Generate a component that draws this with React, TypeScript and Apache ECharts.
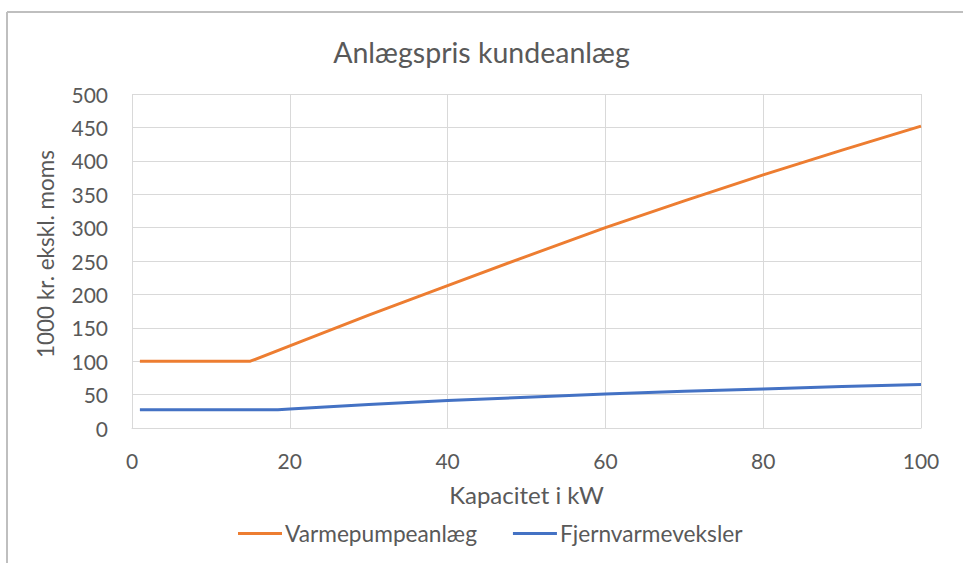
import React, { useEffect, useRef } from "react";
import * as echarts from "echarts";

const titleText = "Anlægspris kundeanlæg";
const xAxisName = "Kapacitet i kW";
const yAxisName = "1000 kr. ekskl. moms";
const seriesNames = ["Varmepumpeanlæg", "Fjernvarmeveksler"];

const heatPumpKW = [1, 15, 20, 30, 40, 50, 60, 70, 80, 90, 100];
const heatPumpPrice = [100, 100, 123, 169, 213, 257, 300, 340, 379, 416, 452];

const districtKW = [1, 18.5, 20, 30, 40, 50, 60, 70, 80, 90, 100];
const districtPrice = [27.5, 27.5, 28.5, 35, 41, 46, 51, 55, 58.5, 62, 65];

const FONT = "Lato";
const TEXT = "#595959";

export default function App() {
  const ref = useRef<HTMLDivElement>(null);
  useEffect(() => {
    if (!ref.current) return;
    const chart = echarts.init(ref.current, undefined, { renderer: "svg" });
    chart.setOption({
      animation: false,
      backgroundColor: "#ffffff",
      textStyle: { fontFamily: FONT },
      title: {
        text: titleText,
        left: "center",
        top: 32,
        textStyle: { fontFamily: FONT, fontSize: 28.5, fontWeight: "normal", color: TEXT },
      },
      grid: { left: 132, top: 94, width: 789, height: 334, containLabel: false },
      legend: {
        bottom: 13,
        left: 233,
        icon: "rect",
        itemWidth: 44,
        itemHeight: 3,
        itemGap: 36,
        textStyle: { fontFamily: FONT, fontSize: 22.7, color: TEXT, padding: [0, 0, 0, -2] },
        data: seriesNames,
      },
      xAxis: {
        type: "value",
        min: 0,
        max: 100,
        interval: 20,
        name: xAxisName,
        nameLocation: "middle",
        nameGap: 54,
        nameTextStyle: { fontFamily: FONT, fontSize: 24, color: TEXT },
        axisLine: { show: true, lineStyle: { color: "#d9d9d9", width: 1 } },
        axisTick: { show: false },
        axisLabel: { fontFamily: FONT, fontSize: 21, color: TEXT, margin: 22 },
        splitLine: { show: true, lineStyle: { color: "#d9d9d9", width: 1 } },
      },
      yAxis: {
        type: "value",
        min: 0,
        max: 500,
        interval: 50,
        name: yAxisName,
        nameLocation: "middle",
        nameGap: 75,
        nameRotate: 90,
        nameTextStyle: { fontFamily: FONT, fontSize: 22.5, color: TEXT, padding: [0, 0, 0, 14] },
        axisLine: { show: false },
        axisTick: { show: false },
        axisLabel: { fontFamily: FONT, fontSize: 21, color: TEXT, margin: 24 },
        splitLine: { show: true, lineStyle: { color: "#d9d9d9", width: 1 } },
      },
      series: [
        {
          name: seriesNames[0],
          type: "line",
          symbol: "none",
          color: "#ED7D31",
          lineStyle: { width: 3, color: "#ED7D31" },
          data: heatPumpKW.map((x, i) => [x, heatPumpPrice[i]]),
        },
        {
          name: seriesNames[1],
          type: "line",
          symbol: "none",
          color: "#4472C4",
          lineStyle: { width: 3, color: "#4472C4" },
          data: districtKW.map((x, i) => [x, districtPrice[i]]),
        },
      ],
      graphic: [
        { type: "line", shape: { x1: 7, y1: 12, x2: 963, y2: 12 }, style: { stroke: "#bfbfbf", lineWidth: 2 } },
        { type: "line", shape: { x1: 7, y1: 12, x2: 7, y2: 563 }, style: { stroke: "#bfbfbf", lineWidth: 2 } },
      ],
    });
    return () => chart.dispose();
  }, []);
  return (
    <div
      ref={ref}
      style={{ position: "fixed", left: 0, top: 0, width: 963, height: 563 }}
    />
  );
}
